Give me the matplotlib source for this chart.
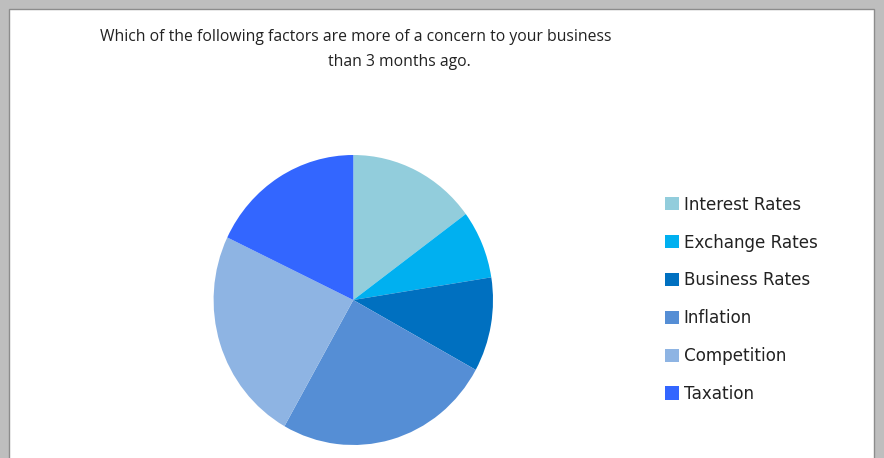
import matplotlib.pyplot as plt
from matplotlib.patches import Rectangle

# share of respondents per factor
factors = ["Interest Rates", "Exchange Rates", "Business Rates",
           "Inflation", "Competition", "Taxation"]
shares = [14.9, 7.6, 10.5, 25.2, 23.9, 17.9]
colours = ["#92CDDC", "#00B0F0", "#0070C0", "#558ED5", "#8EB4E3", "#3366FF"]

W, H = 884, 458
fig = plt.figure(figsize=(W / 100, H / 100), dpi=100, facecolor="#BEBEBE")

# white panel with a darker edge
fig.patches.append(Rectangle((9 / W, -0.05), 865 / W, 1.05 - 9 / H,
                             transform=fig.transFigure, facecolor="white",
                             edgecolor="#8C8C8C", linewidth=1, zorder=-10))

# title, two lines
fig.text(356 / W, 1 - 37 / H,
         "Which of the following factors are more of a concern to your business",
         ha="center", va="center", fontsize=11.3, family="Open Sans", color="#222222")
fig.text(399 / W, 1 - 62 / H, "than 3 months ago.",
         ha="center", va="center", fontsize=11.3, family="Open Sans", color="#222222")

# pie
ax = fig.add_axes([213.6 / W, 13 / H, 279.4 / W, 290 / H])
wedges, _ = ax.pie(shares, colors=colours, startangle=90, counterclock=False,
                   wedgeprops=dict(linewidth=0))
ax.set_xlim(-1, 1)
ax.set_ylim(-1, 1)
ax.set_aspect("auto")
ax.axis("off")

# legend
fig.legend(wedges, factors, loc="upper left",
           bbox_to_anchor=(658 / W, 1 - 189 / H), frameon=False,
           prop=dict(family="DejaVu Sans", size=12.1),
           handlelength=0.83, handleheight=0.83,
           handletextpad=0.3, labelspacing=1.18, borderaxespad=0,
           labelcolor="#222222")

fig.savefig("out.png", dpi=100, facecolor=fig.get_facecolor())
